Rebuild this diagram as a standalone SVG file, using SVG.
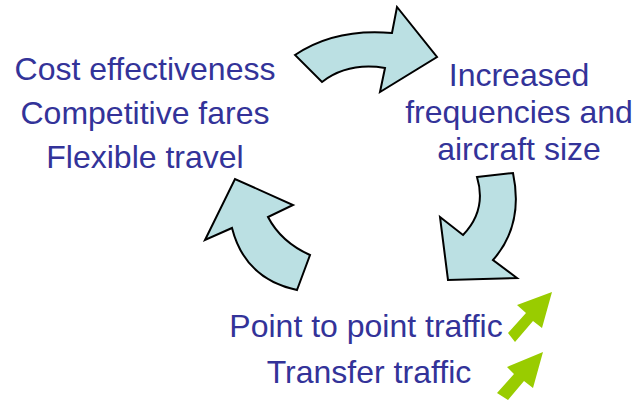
<svg xmlns="http://www.w3.org/2000/svg" width="637" height="400" viewBox="0 0 637 400">
<style>
.t{font-family:"Liberation Sans",Arial,sans-serif;font-size:32px;fill:#333399;text-anchor:middle}
.ca{fill:#bbe0e3;stroke:#000;stroke-width:2;stroke-linejoin:miter}
.ga{fill:#99cc00}
</style>
<rect width="637" height="400" fill="#fff"/>
<g id="connectors">
<path class="ca" d="M295,55 Q335,28 392,33 L397,7 L437,57 L380,92 L385,68 Q348,62 322,82 Z"/>
<path class="ca" d="M477,177 L513,173 Q524,225 493,260 L517,278 L448,280 L440,217 L463,235 Q487,210 477,177 Z"/>
<path class="ca" d="M297,290 L310,255 Q281,242 268,217 L293,205 L235,179 L205,240 L232,228 Q245,279 297,290 Z"/>
<path class="ga" d="M552,292 L542,328 L533,321 L515,342 L508,333 L526,313 L517,305 Z"/>
<path class="ga" d="M543,352 L533,388 L524,381 L508,400 L497,393 L514,374 L507,367 Z"/>
</g>
<g id="node-left">
<text class="t" x="145" y="80">Cost effectiveness</text>
<text class="t" x="145" y="124">Competitive fares</text>
<text class="t" x="145" y="168">Flexible travel</text>
</g>
<g id="node-right">
<text class="t" x="519" y="86">Increased</text>
<text class="t" x="519" y="123">frequencies and</text>
<text class="t" x="519" y="160">aircraft size</text>
</g>
<g id="node-bottom">
<text class="t" x="366" y="337">Point to point traffic</text>
<text class="t" x="369" y="383">Transfer traffic</text>
</g>
</svg>
